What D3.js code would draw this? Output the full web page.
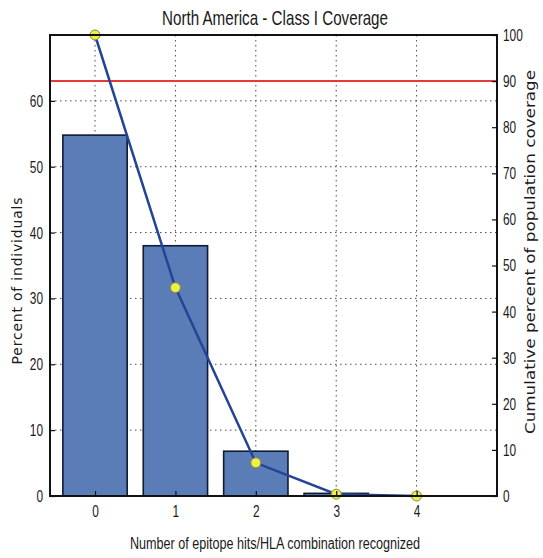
<!DOCTYPE html>
<html>
<head>
<meta charset="utf-8">
<script src="https://cdn.jsdelivr.net/npm/d3@7"></script>
<style>
  body { margin: 0; background: #fff; }
</style>
</head>
<body>
<svg id="chart" width="543" height="558"></svg>
<script>
// values
const hits = [0, 1, 2, 3, 4];
const percentIndividuals = [54.8, 38.0, 6.8, 0.4, 0.0];
const cumulativeCoverage = [100, 45.2, 7.2, 0.4, 0.0];
const leftTicks = [0, 10, 20, 30, 40, 50, 60];
const rightTicks = [0, 10, 20, 30, 40, 50, 60, 70, 80, 90, 100];
const thresholdLine = 90;

const svg = d3.select("#chart");
const m = { left: 50, right: 497, top: 35, bottom: 496 };

const x = d3.scaleLinear().domain([-0.56, 5]).range([m.left, m.right]);
const yL = d3.scaleLinear().domain([0, 70]).range([m.bottom, m.top]);
const yR = d3.scaleLinear().domain([0, 100]).range([m.bottom, m.top]);

// grid
const grid = svg.append("g").attr("stroke", "#222").attr("stroke-width", 1)
  .attr("stroke-dasharray", "1.5,3.5").attr("opacity", 0.8);
grid.selectAll(".gx").data(hits).join("line")
  .attr("x1", d => x(d)).attr("x2", d => x(d))
  .attr("y1", m.top).attr("y2", m.bottom);
grid.selectAll(".gy").data(leftTicks.slice(1)).join("line")
  .attr("x1", m.left).attr("x2", m.right)
  .attr("y1", d => yL(d)).attr("y2", d => yL(d));

// bars
const bw = x(0.8) - x(0);
svg.append("g").selectAll("rect").data(hits).join("rect")
  .attr("x", d => x(d - 0.4))
  .attr("y", (d, i) => yL(percentIndividuals[i]))
  .attr("width", bw)
  .attr("height", (d, i) => m.bottom - yL(percentIndividuals[i]))
  .attr("fill", "#5b7db7")
  .attr("stroke", "#101a30")
  .attr("stroke-width", 1.6);

// threshold
svg.append("line")
  .attr("x1", m.left).attr("x2", m.right)
  .attr("y1", yR(thresholdLine)).attr("y2", yR(thresholdLine))
  .attr("stroke", "#e53a3a").attr("stroke-width", 2);

// cumulative line
const line = d3.line().x((d, i) => x(hits[i])).y(d => yR(d));
svg.append("path").datum(cumulativeCoverage)
  .attr("d", line).attr("fill", "none")
  .attr("stroke", "#24449a").attr("stroke-width", 2.5);
svg.append("g").selectAll("circle").data(cumulativeCoverage).join("circle")
  .attr("cx", (d, i) => x(hits[i])).attr("cy", d => yR(d)).attr("r", 5)
  .attr("fill", "#eef04a").attr("stroke", "#8a8a30").attr("stroke-width", 1);

// frame
svg.append("rect")
  .attr("x", m.left).attr("y", m.top)
  .attr("width", m.right - m.left).attr("height", m.bottom - m.top)
  .attr("fill", "none").attr("stroke", "#111").attr("stroke-width", 2);

// axes (condensed look via textLength)
const fontCss = '"Liberation Sans", Arial, sans-serif';
function styleAxis(g) {
  g.select(".domain").remove();
  g.selectAll("text").attr("font-family", fontCss).attr("font-size", 17)
    .attr("fill", "#1a1a1a")
    .attr("textLength", function () { return this.textContent.length * 6.6; })
    .attr("lengthAdjust", "spacingAndGlyphs");
  g.selectAll("line").attr("stroke", "#111").attr("stroke-width", 1.2);
}
svg.append("g").attr("transform", `translate(${m.left},0)`)
  .call(d3.axisLeft(yL).tickValues(leftTicks).tickSize(-5).tickPadding(7))
  .call(styleAxis);
svg.append("g").attr("transform", `translate(${m.right},0)`)
  .call(d3.axisRight(yR).tickValues(rightTicks).tickSize(-5).tickPadding(6))
  .call(styleAxis);
svg.append("g").attr("transform", `translate(0,${m.bottom})`)
  .call(d3.axisBottom(x).tickValues(hits).tickFormat(d3.format("d")).tickSize(-5).tickPadding(9))
  .call(styleAxis);

// labels
svg.append("text")
  .attr("x", 275).attr("y", 25)
  .attr("text-anchor", "middle").attr("font-family", fontCss)
  .attr("font-size", 21).attr("fill", "#1a1a1a")
  .attr("textLength", 226).attr("lengthAdjust", "spacingAndGlyphs")
  .text("North America - Class I Coverage");
svg.append("text")
  .attr("x", 275).attr("y", 549)
  .attr("text-anchor", "middle").attr("font-family", fontCss)
  .attr("font-size", 16).attr("fill", "#1a1a1a")
  .attr("textLength", 290).attr("lengthAdjust", "spacingAndGlyphs")
  .text("Number of epitope hits/HLA combination recognized");
svg.append("text")
  .attr("transform", `translate(22,281) rotate(-90)`)
  .attr("text-anchor", "middle").attr("font-family", "DejaVu Sans, sans-serif")
  .attr("font-size", 14).attr("fill", "#1a1a1a")
  .attr("textLength", 167).attr("lengthAdjust", "spacing")
  .text("Percent of individuals");
svg.append("text")
  .attr("transform", `translate(535,252) rotate(-90)`)
  .attr("text-anchor", "middle").attr("font-family", "DejaVu Sans, sans-serif")
  .attr("font-size", 13.5).attr("fill", "#1a1a1a")
  .attr("textLength", 364).attr("lengthAdjust", "spacingAndGlyphs")
  .text("Cumulative percent of population coverage");
</script>
</body>
</html>
